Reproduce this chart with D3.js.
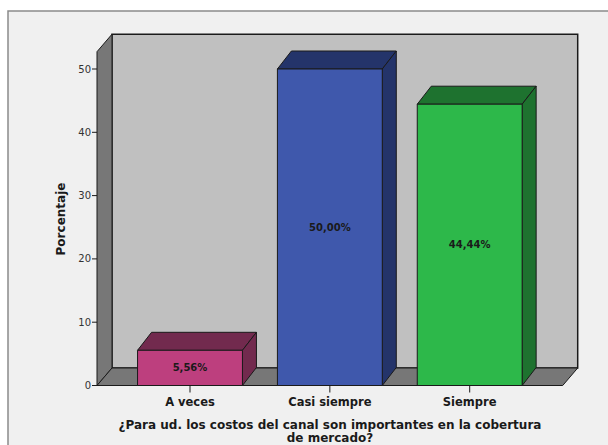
<!DOCTYPE html>
<html><head><meta charset="utf-8">
<script src="https://cdn.jsdelivr.net/npm/d3@7/dist/d3.min.js"></script>
<style>html,body{margin:0;padding:0;background:#fff;}svg{display:block;}</style>
</head><body>
<script>
const categories = ["A veces", "Casi siempre", "Siempre"];
const values = [5.56, 50.00, 44.44];
const valueLabels = ["5,56%", "50,00%", "44,44%"];
const yTicks = [0, 10, 20, 30, 40, 50];
const frontColors = ["#bd3f7e", "#3f58ac", "#2db84a"];
const sideColors = ["#722a4e", "#24346a", "#1e722f"];
const yTitle = "Porcentaje";
const xTitle = ["¿Para ud. los costos del canal son importantes en la cobertura", "de mercado?"];

const W = 608, H = 445;
const svg = d3.select("body").append("svg").attr("width", W).attr("height", H);
const font = "DejaVu Sans, Verdana, sans-serif";

// outer panel
svg.append("rect").attr("x", 8).attr("y", 11).attr("width", W + 10).attr("height", H + 10)
  .attr("fill", "#f0f0f0").attr("stroke", "#8a8a8a").attr("stroke-width", 1.5);

const x0 = 97, x1 = 562.7;
const y = d3.scaleLinear().domain([0, 50]).range([385.5, 69]);
const x = d3.scaleBand().domain(categories).range([x0, x1]).paddingInner(0.25).paddingOuter(0.29);
const dx = 15, dy = -17.5;
const wallTop = 51.7;
const yb = y(0);
const line = d3.line();

// back wall
svg.append("path").attr("d", line([[x0+dx, wallTop+dy],[x1+dx, wallTop+dy],[x1+dx, yb+dy],[x0+dx, yb+dy]]) + "Z")
  .attr("fill", "#c0c0c0").attr("stroke", "#1a1a1a").attr("stroke-width", 1.5);
// left wall
svg.append("path").attr("d", line([[x0, wallTop],[x0+dx, wallTop+dy],[x0+dx, yb+dy],[x0, yb]]) + "Z")
  .attr("fill", "#777777").attr("stroke", "#1a1a1a").attr("stroke-width", 1);
// floor
svg.append("path").attr("d", line([[x0, yb],[x0+dx, yb+dy],[x1+dx, yb+dy],[x1, yb]]) + "Z")
  .attr("fill", "#777777").attr("stroke", "#1a1a1a").attr("stroke-width", 1);

// y axis ticks
const gy = svg.append("g");
yTicks.forEach(t => {
  gy.append("line").attr("x1", x0 - 5).attr("x2", x0).attr("y1", y(t)).attr("y2", y(t))
    .attr("stroke", "#1a1a1a").attr("stroke-width", 1);
  gy.append("text").attr("x", x0 - 6).attr("y", y(t)).attr("dy", "0.35em")
    .attr("text-anchor", "end").attr("font-family", font).attr("font-size", 10)
    .attr("fill", "#333").text(t);
});

// bars
const bdx = 14, bdy = -18;
categories.forEach((c, i) => {
  const L = x(c), R = L + x.bandwidth(), T = y(values[i]);
  const g = svg.append("g").attr("stroke", "#1a1a1a").attr("stroke-width", 1).attr("stroke-linejoin", "round");
  g.append("path").attr("d", line([[L, T],[L+bdx, T+bdy],[R+bdx, T+bdy],[R, T]]) + "Z").attr("fill", sideColors[i]);
  g.append("path").attr("d", line([[R, T],[R+bdx, T+bdy],[R+bdx, yb+bdy],[R, yb]]) + "Z").attr("fill", sideColors[i]);
  g.append("rect").attr("x", L).attr("y", T).attr("width", R - L).attr("height", yb - T).attr("fill", frontColors[i]);
  svg.append("text").attr("x", (L + R) / 2).attr("y", (T + yb) / 2).attr("dy", "0.35em")
    .attr("text-anchor", "middle").attr("font-family", font).attr("font-size", 10).attr("font-weight", "bold")
    .attr("fill", "#1a1a1a").text(valueLabels[i]);
  // x tick
  const cx = L + x.bandwidth() / 2;
  svg.append("line").attr("x1", cx).attr("x2", cx).attr("y1", yb).attr("y2", yb + 7)
    .attr("stroke", "#1a1a1a").attr("stroke-width", 1);
  svg.append("text").attr("x", cx).attr("y", 402).attr("dy", "0.35em")
    .attr("text-anchor", "middle").attr("font-family", font).attr("font-size", 11.5).attr("font-weight", "bold")
    .attr("fill", "#1a1a1a").text(c);
});

// axis titles
svg.append("text").attr("transform", "translate(61,219) rotate(-90)").attr("dy", "0.35em")
  .attr("text-anchor", "middle").attr("font-family", font).attr("font-size", 12).attr("font-weight", "bold")
  .attr("fill", "#1a1a1a").text(yTitle);
xTitle.forEach((t, i) => {
  svg.append("text").attr("x", 330).attr("y", 425 + i * 13).attr("dy", "0.35em")
    .attr("text-anchor", "middle").attr("font-family", font).attr("font-size", 12).attr("font-weight", "bold")
    .attr("fill", "#1a1a1a").text(t);
});
</script>
</body></html>
